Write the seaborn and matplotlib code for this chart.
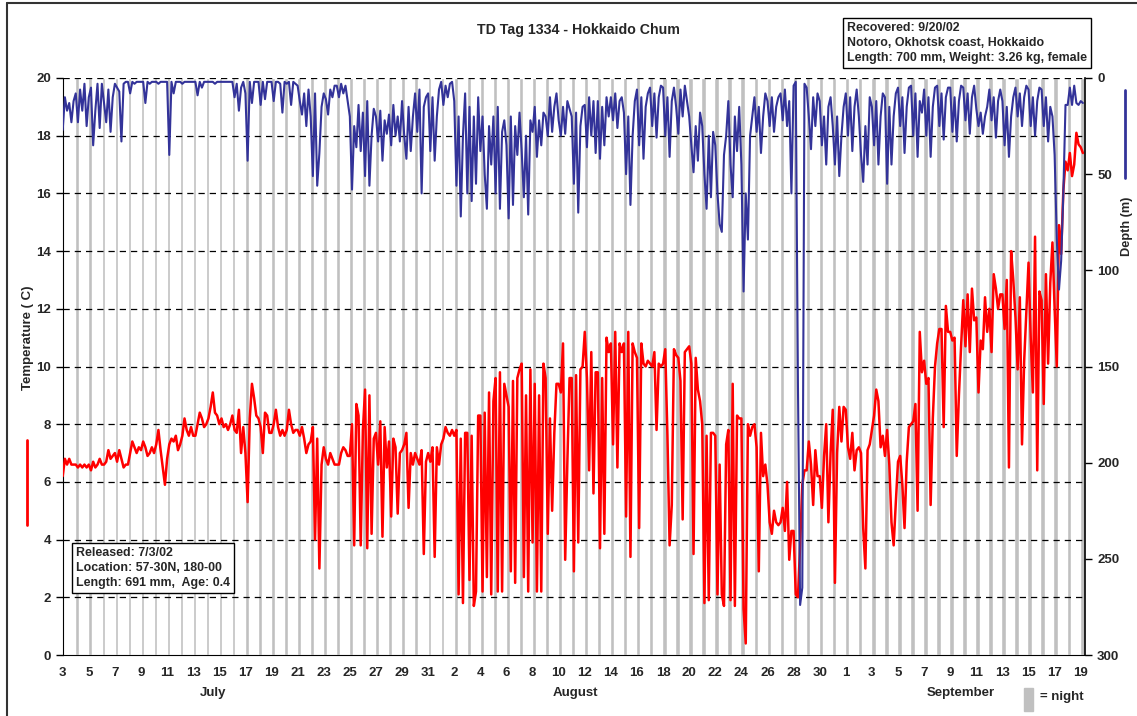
import numpy as np
import pandas as pd
import matplotlib
matplotlib.use("Agg")
import matplotlib.pyplot as plt
import seaborn as sns

SAMPLES_PER_DAY = 6

# temperature (C), six readings per day
temp_july = [  # July 3 .. July 31
    [6.2, 6.8, 6.6, 6.8, 6.6, 6.6],
    [6.6, 6.5, 6.6, 6.5, 6.6, 6.5],
    [6.6, 6.4, 6.7, 6.5, 6.6, 6.8],
    [6.6, 6.6, 6.7, 7.1, 6.8, 6.9],
    [7.0, 6.7, 7.1, 6.8, 6.5, 6.6],
    [6.6, 7.0, 7.4, 7.2, 7.0, 7.2],
    [7.1, 7.4, 7.2, 6.9, 7.0, 7.2],
    [7.0, 7.3, 7.8, 7.1, 6.5, 5.9],
    [6.8, 7.3, 7.5, 7.4, 7.6, 7.1],
    [7.3, 7.6, 8.2, 7.8, 7.6, 7.9],
    [7.6, 7.6, 8.0, 8.4, 8.2, 7.9],
    [8.0, 8.2, 8.6, 9.1, 8.4, 8.3],
    [8.0, 8.2, 7.9, 8.0, 7.8, 8.0],
    [8.3, 7.8, 7.7, 8.5, 7.0, 7.9],
    [7.0, 5.3, 8.2, 9.4, 8.9, 8.3],
    [8.2, 7.9, 7.0, 8.4, 8.3, 7.7],
    [7.7, 8.0, 8.5, 7.9, 7.6, 7.8],
    [7.6, 7.8, 8.5, 8.0, 7.7, 7.8],
    [7.8, 7.6, 7.9, 7.5, 7.0, 7.3],
    [7.4, 7.9, 4.0, 7.5, 3.0, 6.6],
    [7.2, 6.8, 6.6, 7.0, 6.8, 6.6],
    [6.6, 6.6, 7.0, 7.2, 7.1, 6.9],
    [6.9, 8.0, 3.8, 8.7, 8.3, 3.8],
    [7.8, 9.2, 3.7, 9.0, 4.2, 7.5],
    [7.7, 6.6, 8.1, 4.1, 7.9, 6.5],
    [7.4, 4.8, 7.5, 7.2, 4.9, 7.0],
    [7.1, 7.3, 7.7, 5.1, 7.0, 6.6],
    [7.0, 6.8, 6.6, 7.1, 3.5, 6.7],
    [7.0, 6.7, 7.2, 3.4, 7.2, 6.6],
]
temp_aug = [  # Aug 1 .. Aug 31
    [7.3, 7.5, 7.9, 7.7, 7.6, 7.8],
    [7.6, 7.8, 2.1, 7.5, 1.8, 7.7],
    [7.7, 2.6, 7.6, 1.7, 2.2, 8.3],
    [8.3, 2.2, 8.4, 2.7, 9.1, 2.1],
    [8.8, 9.6, 2.2, 9.8, 2.2, 9.4],
    [9.0, 8.6, 2.9, 9.5, 2.5, 9.6],
    [9.9, 10.1, 2.7, 9.0, 2.2, 9.9],
    [3.9, 9.4, 2.2, 9.0, 2.2, 10.1],
    [9.6, 4.2, 8.2, 5.0, 7.7, 9.4],
    [9.4, 9.1, 10.8, 3.3, 6.7, 9.6],
    [9.6, 2.9, 9.7, 3.9, 9.9, 10.0],
    [11.2, 9.6, 6.4, 10.5, 5.6, 9.8],
    [9.8, 3.7, 9.6, 4.2, 11.0, 10.5],
    [10.8, 7.3, 11.2, 6.5, 10.8, 10.5],
    [10.8, 4.8, 11.2, 3.4, 10.8, 10.5],
    [10.3, 4.4, 10.8, 10.1, 10.0, 10.2],
    [10.1, 10.0, 10.5, 7.8, 10.1, 10.0],
    [10.1, 10.6, 7.6, 3.8, 5.2, 10.6],
    [10.4, 10.3, 9.5, 4.7, 10.5, 10.6],
    [10.7, 10.1, 3.5, 10.3, 9.2, 8.8],
    [8.0, 1.8, 7.6, 1.9, 7.7, 7.7],
    [7.6, 2.1, 6.6, 2.1, 1.7, 7.3],
    [7.8, 1.9, 9.4, 1.7, 8.3, 8.2],
    [8.2, 1.6, 0.4, 8.0, 7.6, 7.9],
    [8.0, 7.2, 2.9, 7.7, 6.2, 6.6],
    [5.9, 4.6, 4.2, 5.0, 4.6, 4.5],
    [4.6, 5.1, 4.3, 6.0, 3.3, 4.3],
    [4.3, 2.1, 2.0, 3.8, 5.9, 6.4],
    [6.4, 7.4, 6.6, 5.2, 7.1, 6.2],
    [6.2, 5.1, 6.9, 8.0, 4.6, 7.0],
    [8.5, 2.5, 7.0, 8.6, 7.4, 8.6],
]
temp_sept = [  # Sept 1 .. Sept 19
    [8.5, 7.2, 6.8, 7.7, 6.4, 7.1],
    [7.2, 7.0, 4.4, 3.0, 7.1, 7.3],
    [7.8, 8.3, 9.2, 8.8, 7.2, 7.6],
    [6.9, 7.8, 6.6, 4.6, 3.8, 5.3],
    [6.7, 6.9, 5.9, 4.4, 6.7, 7.9],
    [8.0, 8.1, 8.7, 5.0, 11.2, 9.8],
    [10.2, 9.4, 9.6, 5.2, 8.2, 10.0],
    [10.8, 11.3, 11.3, 7.9, 12.1, 11.2],
    [11.2, 10.9, 11.0, 6.9, 9.0, 10.7],
    [12.3, 10.7, 12.5, 10.5, 12.7, 11.6],
    [11.7, 9.1, 10.9, 10.6, 12.4, 11.2],
    [12.0, 10.5, 13.2, 12.7, 12.0, 12.5],
    [12.5, 11.3, 13.0, 6.5, 14.0, 13.0],
    [11.7, 9.9, 12.4, 7.3, 10.2, 11.9],
    [13.6, 11.0, 9.1, 14.5, 6.4, 12.6],
    [12.3, 8.7, 13.2, 10.1, 12.9, 14.3],
    [12.0, 10.0, 14.9, 13.9, 16.1, 17.1],
    [16.8, 17.4, 16.6, 17.0, 18.1, 17.7],
    [17.6, 17.4],
]

# depth (m), six readings per day
depth_july = [
    [27, 10, 17, 13, 23, 12],
    [8, 23, 6, 17, 3, 25],
    [10, 5, 35, 17, 3, 26],
    [3, 13, 23, 6, 28, 10],
    [3, 5, 7, 33, 3, 2],
    [2, 8, 2, 3, 2, 2],
    [2, 2, 13, 2, 3, 2],
    [2, 2, 3, 2, 2, 2],
    [2, 40, 2, 8, 2, 2],
    [2, 3, 2, 2, 2, 2],
    [2, 2, 9, 2, 5, 2],
    [2, 2, 2, 2, 3, 2],
    [2, 2, 2, 2, 2, 2],
    [2, 10, 3, 17, 5, 2],
    [8, 43, 2, 13, 2, 2],
    [2, 14, 2, 11, 2, 2],
    [2, 12, 2, 2, 3, 18],
    [2, 3, 2, 14, 2, 3],
    [4, 12, 19, 8, 25, 6],
    [20, 51, 8, 56, 39, 15],
    [8, 11, 19, 6, 10, 4],
    [4, 10, 3, 8, 4, 12],
    [20, 58, 25, 36, 14, 38],
    [18, 51, 12, 56, 30, 16],
    [20, 33, 17, 43, 22, 29],
    [19, 35, 14, 30, 20, 33],
    [12, 30, 42, 15, 38, 20],
    [8, 28, 6, 60, 15, 10],
    [8, 38, 10, 43, 20, 6],
]
depth_aug = [
    [2, 14, 4, 10, 3, 2],
    [12, 56, 20, 72, 30, 8],
    [60, 15, 64, 20, 55, 10],
    [38, 20, 50, 68, 25, 45],
    [20, 60, 15, 68, 28, 22],
    [35, 73, 20, 66, 25, 40],
    [18, 38, 62, 30, 71, 22],
    [28, 15, 41, 22, 35, 18],
    [20, 30, 10, 28, 15, 8],
    [22, 30, 15, 29, 12, 16],
    [20, 55, 18, 70, 25, 15],
    [14, 36, 10, 30, 12, 39],
    [12, 42, 15, 35, 10, 20],
    [10, 22, 8, 26, 12, 10],
    [18, 50, 20, 66, 30, 12],
    [6, 35, 10, 42, 15, 8],
    [5, 25, 8, 31, 10, 4],
    [5, 30, 10, 41, 12, 5],
    [15, 29, 6, 20, 4, 12],
    [20, 35, 49, 25, 43, 18],
    [25, 50, 68, 30, 62, 28],
    [35, 60, 76, 80, 40, 30],
    [12, 45, 62, 20, 38, 15],
    [45, 111, 60, 84, 30, 20],
    [10, 28, 15, 39, 20, 8],
    [12, 25, 10, 28, 15, 10],
    [8, 22, 6, 25, 12, 60],
    [4, 2, 160, 274, 265, 3],
    [5, 20, 37, 10, 25, 8],
    [12, 35, 20, 45, 15, 10],
    [25, 45, 20, 51, 30, 15],
]
depth_sept = [
    [8, 30, 10, 38, 15, 6],
    [20, 40, 54, 25, 45, 10],
    [15, 35, 12, 45, 20, 8],
    [10, 55, 15, 45, 20, 8],
    [5, 25, 10, 39, 15, 5],
    [4, 30, 8, 41, 12, 18],
    [6, 30, 10, 41, 15, 5],
    [4, 25, 8, 32, 10, 5],
    [5, 28, 10, 33, 12, 4],
    [5, 22, 8, 29, 10, 4],
    [16, 25, 18, 29, 20, 15],
    [6, 22, 10, 31, 12, 6],
    [12, 35, 15, 41, 20, 10],
    [5, 20, 8, 25, 10, 4],
    [6, 25, 10, 30, 12, 5],
    [6, 25, 10, 33, 15, 20],
    [40, 84, 110, 95, 60, 14],
    [14, 5, 14, 4, 13, 14],
    [12, 13],
]

tick_labels = ["3", "5", "7", "9", "11", "13", "15", "17", "19", "21", "23", "25",
               "27", "29", "31", "2", "4", "6", "8", "10", "12", "14", "16", "18",
               "20", "22", "24", "26", "28", "30", "1", "3", "5", "7", "9", "11",
               "13", "15", "17", "19"]
months = ["July", "August", "September"]
month_pos = [11.5, 39.3, 68.8]


def to_frame(rows, name):
    t, v = [], []
    for day, vals in enumerate(rows):
        for k, val in enumerate(vals):
            t.append(day + k / SAMPLES_PER_DAY)
            v.append(val)
    return pd.DataFrame({"day": t, name: v})


temp_df = to_frame(temp_july + temp_aug + temp_sept, "temp")
depth_df = to_frame(depth_july + depth_aug + depth_sept, "depth")
n_days = len(temp_july) + len(temp_aug) + len(temp_sept)

sns.set_style("white")
plt.rcParams["font.family"] = ["Liberation Sans", "DejaVu Sans"]
plt.rcParams["font.weight"] = "bold"

W, H = 1137, 716
fig = plt.figure(figsize=(W / 100, H / 100), dpi=100)
ax = fig.add_axes([62.7 / W, 1 - 655 / H, (1085.3 - 62.7) / W, (655 - 78) / H])

# night bars
nights = np.arange(1, n_days)
widths = np.linspace(0.25, 0.38, len(nights))
ax.bar(nights + 0.1, 20, width=widths, bottom=0, color="#c0c0c0", zorder=0)

for yv in range(2, 21, 2):
    ax.axhline(yv, color="black", lw=0.9, dashes=(5, 4), zorder=1)

sns.lineplot(data=temp_df, x="day", y="temp", ax=ax, color="#ff0000",
             lw=1.8, estimator=None, zorder=3)
ax.set_xlim(0, 78.35)
ax.set_ylim(0, 20)
ax.set_yticks(range(0, 21, 2))
ax.set_xticks(np.arange(0, 79, 2))
ax.set_xticklabels(tick_labels)
ax.set_xticks(np.arange(0, 79, 1), minor=True)
ax.tick_params(axis="both", which="both", direction="out", length=5, width=1,
               labelsize=9.5, color="black")
ax.tick_params(axis="x", which="major", pad=4)
ax.set_xlabel("")
ax.set_ylabel("")
for s in ax.spines.values():
    s.set_visible(False)
ax.spines["left"].set_visible(True)
ax.spines["bottom"].set_visible(True)
ax.spines["left"].set_color("black")
ax.spines["bottom"].set_color("black")

ax2 = ax.twinx()
sns.lineplot(data=depth_df, x="day", y="depth", ax=ax2, color="#333399",
             lw=1.5, estimator=None)
ax2.set_ylim(300, 0)
ax2.set_yticks(range(0, 301, 50))
ax2.tick_params(axis="y", direction="out", length=5, width=1, labelsize=9.5, color="black")
ax2.set_ylabel("")
ax2.set_xlabel("")
for s in ax2.spines.values():
    s.set_visible(False)
ax2.spines["right"].set_visible(True)
ax2.spines["right"].set_color("black")
ax2.spines["right"].set_linewidth(1.2)
ax2.set_xlim(0, 78.35)

for m, p in zip(months, month_pos):
    ax.text(p, -0.066, m, transform=ax.get_xaxis_transform(), ha="center",
            va="center", fontsize=9.5, fontweight="bold")

fig.text(578 / W, 1 - 30 / H, "TD Tag 1334 - Hokkaido Chum", ha="center",
         va="center", fontsize=10.2, fontweight="bold")
fig.text(28 / W, 1 - 338 / H, "Temperature ( C)", rotation=90, ha="center",
         va="center", fontsize=9.5, fontweight="bold")
fig.text(1127 / W, 1 - 226 / H, "Depth (m)", rotation=90, ha="center",
         va="center", fontsize=9.2, fontweight="bold")
fig.add_artist(plt.Line2D([27 / W, 27 / W], [1 - 440 / H, 1 - 525 / H],
                          color="#ff0000", lw=2))
fig.add_artist(plt.Line2D([1125 / W, 1125 / W], [1 - 90 / H, 1 - 178 / H],
                          color="#333399", lw=2))

box = dict(boxstyle="square,pad=0.35", fc="white", ec="black", lw=1)
fig.text(847 / W, 1 - 43 / H,
         "Recovered: 9/20/02\nNotoro, Okhotsk coast, Hokkaido\nLength: 700 mm, Weight: 3.26 kg, female",
         ha="left", va="center", fontsize=8.9, fontweight="bold", linespacing=1.35,
         bbox=box, zorder=5)
fig.text(76 / W, 1 - 568 / H,
         "Released: 7/3/02\nLocation: 57-30N, 180-00\nLength: 691 mm,  Age: 0.4",
         ha="left", va="center", fontsize=8.9, fontweight="bold", linespacing=1.35,
         bbox=box, zorder=5)

# night legend
fig.add_artist(plt.Rectangle((1024 / W, 1 - 711 / H), 9 / W, 23 / H,
                             color="#c0c0c0", transform=fig.transFigure))
fig.text(1040 / W, 1 - 697 / H, "= night", ha="left", va="center",
         fontsize=9.5, fontweight="bold")

# figure frame
fig.add_artist(plt.Line2D([7 / W, 7 / W], [0, 1 - 3 / H], color="#333333", lw=1.5))
fig.add_artist(plt.Line2D([7 / W, 1], [1 - 3 / H, 1 - 3 / H], color="#333333", lw=1.5))

fig.savefig("out.png", dpi=100)
